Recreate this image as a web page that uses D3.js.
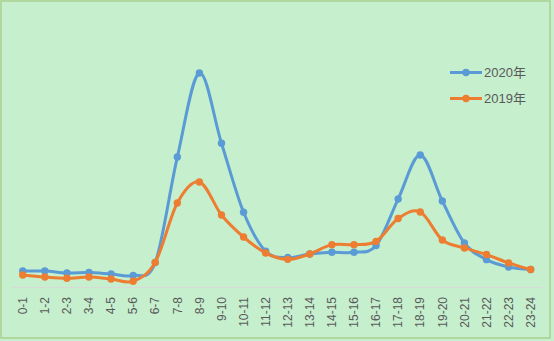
<!DOCTYPE html>
<html><head><meta charset="utf-8">
<script src="https://cdn.jsdelivr.net/npm/d3@7"></script>
<style>
html,body{margin:0;padding:0;background:#fff;}
svg{display:block;}
</style></head>
<body>
<svg id="chart" width="554" height="341"></svg>
<script>
const categories = ["0-1","1-2","2-3","3-4","4-5","5-6","6-7","7-8","8-9","9-10","10-11","11-12","12-13","13-14","14-15","15-16","16-17","17-18","18-19","19-20","20-21","21-22","22-23","23-24"];
const seriesNames = ["2020年","2019年"];
const values2020 = [1.13,1.13,1.0,1.03,0.93,0.83,1.7,8.73,14.33,9.65,5.05,2.45,2.03,2.27,2.38,2.38,2.83,5.93,8.87,5.8,3.0,1.89,1.4,1.23];
const values2019 = [0.87,0.73,0.65,0.73,0.6,0.45,1.71,5.67,7.07,4.87,3.4,2.33,1.91,2.27,2.89,2.89,3.11,4.63,5.07,3.2,2.67,2.23,1.67,1.23];

const W = 554, H = 341;
const svg = d3.select("#chart");
const font = "'Liberation Sans','Noto Sans CJK SC',sans-serif";

svg.append("rect").attr("x",0).attr("y",0).attr("width",W).attr("height",H).attr("fill","#c6efce");
svg.append("rect").attr("x",1).attr("y",1).attr("width",W-5).attr("height",H-4)
  .attr("fill","none").attr("stroke","#a9d18e").attr("stroke-width",1.5);

const x = d3.scaleBand().domain(categories).range([11.7, 541.7]);
const y = d3.scaleLinear().domain([0, 18]).range([288, 18]);
const cx = c => x(c) + x.bandwidth()/2;

const axis = svg.append("g").attr("transform","translate(0,287)")
  .call(d3.axisBottom(x).tickSize(0).tickPadding(0));
axis.select(".domain").attr("stroke","#d9d9d9").attr("stroke-width",1);
axis.selectAll("text")
  .attr("font-family",font).attr("font-size","12px").attr("fill","#595959")
  .attr("transform","rotate(-90)")
  .attr("text-anchor","end")
  .attr("x",-10).attr("y",0).attr("dy","0.35em");

const series = [
  {name: seriesNames[0], values: values2020, color: "#5b9bd5"},
  {name: seriesNames[1], values: values2019, color: "#ed7d31"}
];

const line = d3.line()
  .x((d,i) => cx(categories[i]))
  .y(d => y(d))
  .curve(d3.curveCardinal.tension(0));

series.forEach(s => {
  const g = svg.append("g");
  g.append("path").datum(s.values).attr("d", line)
    .attr("fill","none").attr("stroke", s.color).attr("stroke-width",3)
    .attr("stroke-linejoin","round").attr("stroke-linecap","round");
  g.selectAll("circle").data(s.values).join("circle")
    .attr("cx",(d,i)=>cx(categories[i])).attr("cy", d=>y(d)).attr("r",3.7)
    .attr("fill", s.color);
});

// legend
const leg = svg.append("g");
series.forEach((s,i) => {
  const ly = 72.5 + i*26;
  leg.append("line").attr("x1",450).attr("x2",482).attr("y1",ly).attr("y2",ly)
    .attr("stroke",s.color).attr("stroke-width",3);
  leg.append("circle").attr("cx",466).attr("cy",ly).attr("r",3.7).attr("fill",s.color);
  leg.append("text").attr("x",484).attr("y",ly).attr("dy","0.35em")
    .attr("font-family",font).attr("font-size","13px").attr("fill","#595959").text(s.name);
});
</script>
</body></html>
